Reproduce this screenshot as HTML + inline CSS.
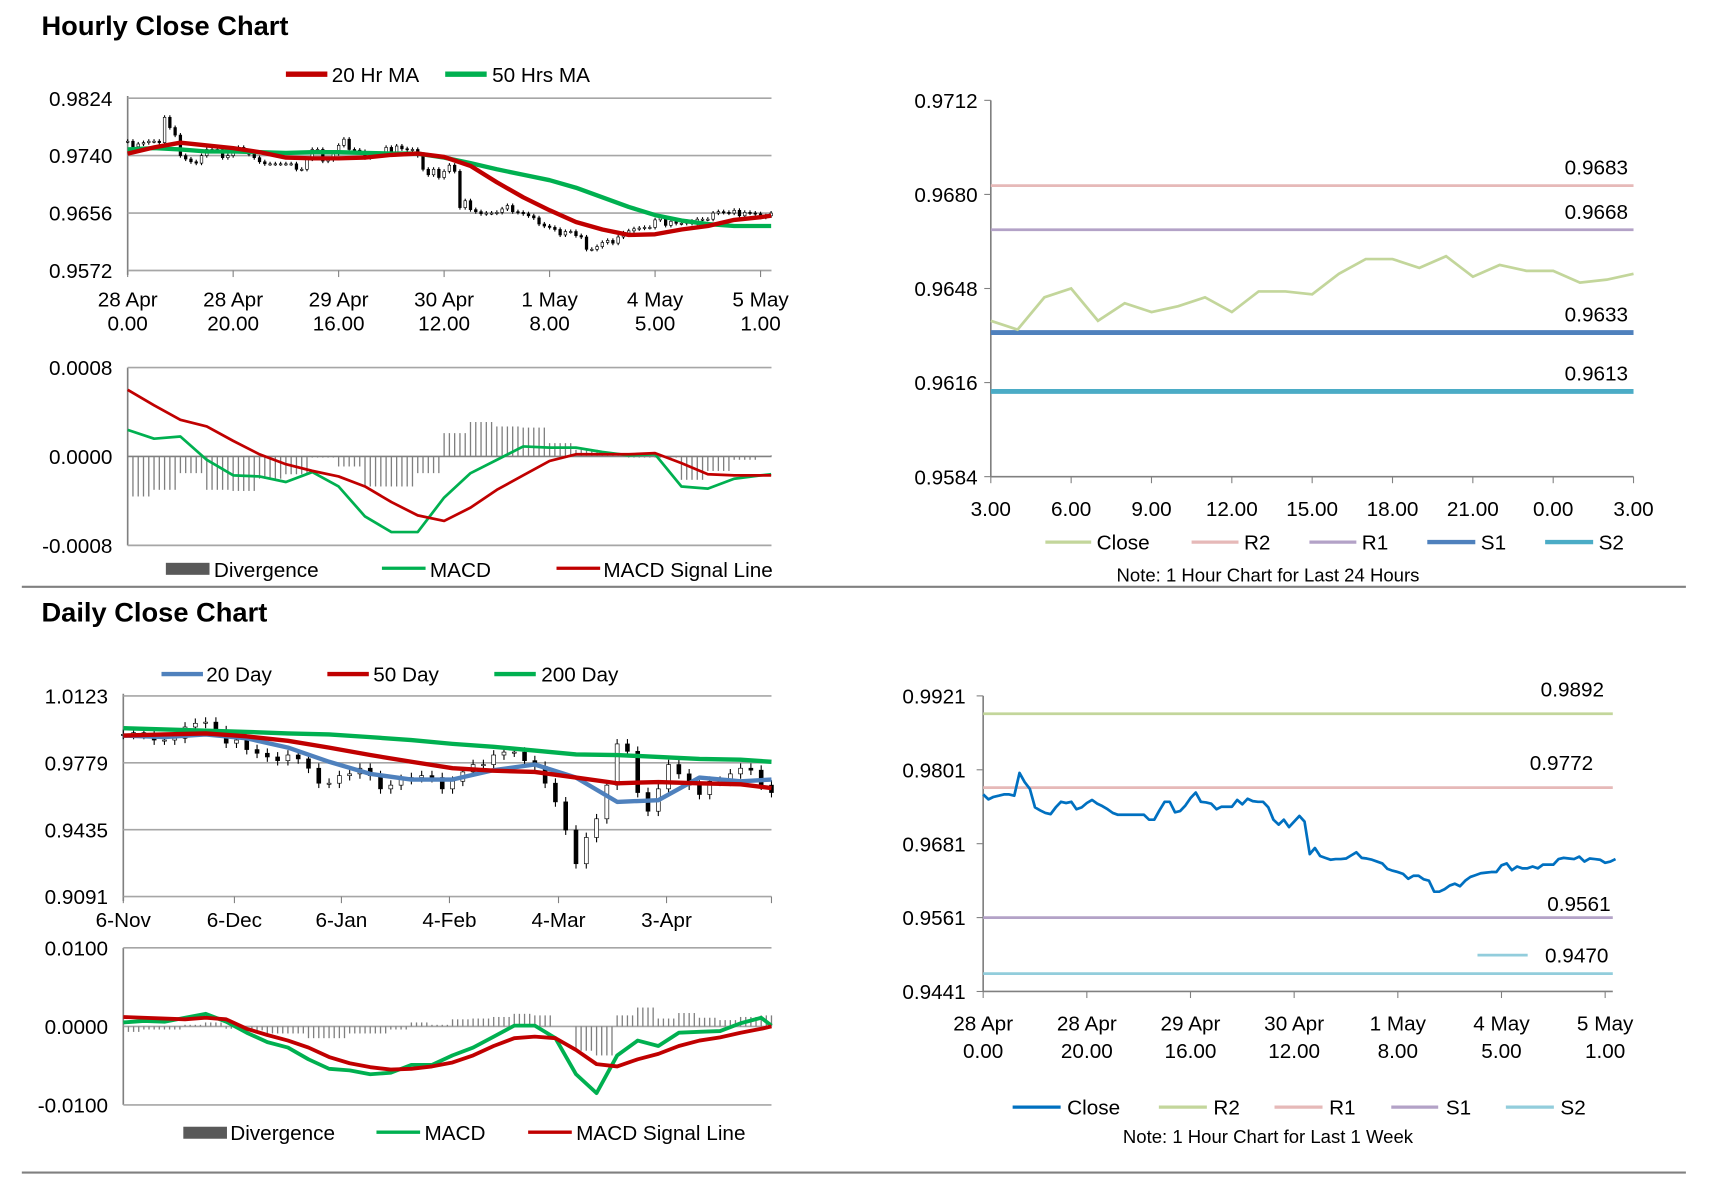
<!DOCTYPE html>
<html><head><meta charset="utf-8">
<style>
html,body{margin:0;padding:0;background:#fff;}
svg{display:block;}
text{font-family:"Liberation Sans Narrow","Liberation Sans",sans-serif;fill:#000;}
.t{font-family:"Liberation Sans",sans-serif;font-weight:bold;font-size:25px;}
.tick{font-size:19px;}
.leg{font-size:19px;}
.note{font-size:17px;}
</style></head>
<body>
<svg id="root" width="1711" height="1178" viewBox="0 0 1568 1080" preserveAspectRatio="none" xmlns="http://www.w3.org/2000/svg">
<text class="t" x="38" y="32">Hourly Close Chart</text>
<text class="t" x="38" y="570">Daily Close Chart</text>
<line x1="20" y1="538" x2="1545" y2="538" stroke="#808080" stroke-width="2"/>
<line x1="20" y1="1075" x2="1545" y2="1075" stroke="#808080" stroke-width="2"/>

<g>
<line x1="262" y1="68" x2="300" y2="68" stroke="#c00000" stroke-width="5"/><text class="leg" x="304" y="75">20 Hr MA</text>
<line x1="408" y1="68" x2="446" y2="68" stroke="#00b050" stroke-width="5"/><text class="leg" x="451" y="75">50 Hrs MA</text>
</g>
<g>
<rect x="152" y="516" width="40" height="11" fill="#595959"/><text class="leg" x="196" y="529">Divergence</text>
<line x1="350" y1="521" x2="390" y2="521" stroke="#00b050" stroke-width="3"/><text class="leg" x="394" y="529">MACD</text>
<line x1="510" y1="521" x2="550" y2="521" stroke="#c00000" stroke-width="3"/><text class="leg" x="553" y="529">MACD Signal Line</text>
</g>
<g>
<line x1="958" y1="497" x2="1000" y2="497" stroke="#c3d69b" stroke-width="3"/><text class="leg" x="1005" y="504">Close</text>
<line x1="1092" y1="497" x2="1135" y2="497" stroke="#e6b9b8" stroke-width="3"/><text class="leg" x="1140" y="504">R2</text>
<line x1="1200" y1="497" x2="1243" y2="497" stroke="#b3a2c7" stroke-width="3"/><text class="leg" x="1248" y="504">R1</text>
<line x1="1308" y1="497" x2="1352" y2="497" stroke="#4f81bd" stroke-width="4"/><text class="leg" x="1357" y="504">S1</text>
<line x1="1416" y1="497" x2="1460" y2="497" stroke="#4bacc6" stroke-width="4"/><text class="leg" x="1465" y="504">S2</text>
<text class="note" x="1162" y="533" text-anchor="middle">Note: 1 Hour Chart for Last 24 Hours</text>
</g>
<g>
<line x1="148" y1="618" x2="186" y2="618" stroke="#4f81bd" stroke-width="4"/><text class="leg" x="189" y="625">20 Day</text>
<line x1="300" y1="618" x2="338" y2="618" stroke="#c00000" stroke-width="4"/><text class="leg" x="342" y="625">50 Day</text>
<line x1="453" y1="618" x2="491" y2="618" stroke="#00b050" stroke-width="4"/><text class="leg" x="496" y="625">200 Day</text>
</g>
<g>
<rect x="168" y="1033" width="40" height="11" fill="#595959"/><text class="leg" x="211" y="1045">Divergence</text>
<line x1="345" y1="1038" x2="385" y2="1038" stroke="#00b050" stroke-width="3"/><text class="leg" x="389" y="1045">MACD</text>
<line x1="484" y1="1038" x2="524" y2="1038" stroke="#c00000" stroke-width="3"/><text class="leg" x="528" y="1045">MACD Signal Line</text>
</g>
<g>
<line x1="928" y1="1015" x2="972" y2="1015" stroke="#0070c0" stroke-width="3"/><text class="leg" x="978" y="1022">Close</text>
<line x1="1062" y1="1015" x2="1106" y2="1015" stroke="#c3d69b" stroke-width="3"/><text class="leg" x="1112" y="1022">R2</text>
<line x1="1168" y1="1015" x2="1212" y2="1015" stroke="#e6b9b8" stroke-width="3"/><text class="leg" x="1218" y="1022">R1</text>
<line x1="1275" y1="1015" x2="1318" y2="1015" stroke="#b3a2c7" stroke-width="3"/><text class="leg" x="1325" y="1022">S1</text>
<line x1="1380" y1="1015" x2="1424" y2="1015" stroke="#92cddc" stroke-width="3"/><text class="leg" x="1430" y="1022">S2</text>
<text class="note" x="1162" y="1048" text-anchor="middle">Note: 1 Hour Chart for Last 1 Week</text>
</g>
</svg>
<script>
// ---------- DATA ----------
const hourlyClose = [0.9761,0.9753,0.9757,0.9759,0.9761,0.9761,0.9759,0.9796,0.9781,0.9770,
0.9740,0.9735,0.9731,0.9729,0.9740,0.9749,0.9747,0.9749,0.9737,0.9740,
0.9747,0.9752,0.9746,0.9742,0.9737,0.9731,0.9728,0.9728,0.9728,0.9728,
0.9728,0.9728,0.9720,0.9720,0.9735,0.9749,0.9749,0.9732,0.9734,0.9743,
0.9755,0.9764,0.9749,0.9748,0.9746,0.9737,0.9741,0.9741,0.9741,0.9752,
0.9745,0.9754,0.9750,0.9749,0.9749,0.9740,0.9720,0.9712,0.9720,0.9708,
0.9717,0.9726,0.9717,0.9664,0.9674,0.9661,0.9658,0.9655,0.9656,0.9656,
0.9657,0.9662,0.9667,0.9658,0.9657,0.9655,0.9652,0.9649,0.9640,0.9637,
0.9635,0.9632,0.9624,0.9629,0.9629,0.9623,0.9621,0.9603,0.9603,0.9607,
0.9613,0.9616,0.9612,0.9621,0.9627,0.9630,0.9633,0.9634,0.9635,0.9635,
0.9646,0.9649,0.9638,0.9644,0.9641,0.9641,0.9644,0.9641,0.9647,0.9647,
0.9647,0.9656,0.9658,0.9657,0.9656,0.9660,0.9652,0.9657,0.9656,0.9655,
0.9650,0.9652,0.9656];
const hourlyTickIdx = [0,20,40,60,80,100,120];
const hourlyTickTop = ["28 Apr","28 Apr","29 Apr","30 Apr","1 May","4 May","5 May"];
const hourlyTickBot = ["0.00","20.00","16.00","12.00","8.00","5.00","1.00"];
const hourlyYTicks = [0.9572,0.9656,0.9740,0.9824];
const maIdx = [0,5,10,15,20,25,30,35,40,45,50,55,60,65,70,75,80,85,90,95,100,105,110,115,120,122];
const ma20 = [0.9743,0.9752,0.9759,0.9755,0.9751,0.9745,0.9737,0.9736,0.9736,0.9737,0.9741,0.9743,0.9738,0.9725,0.9701,0.9679,0.9660,0.9643,0.9632,0.9624,0.9625,0.9632,0.9637,0.9646,0.9650,0.9652];
const ma50 = [0.9749,0.9751,0.9749,0.9746,0.9746,0.9745,0.9744,0.9745,0.9745,0.9744,0.9743,0.9743,0.9737,0.9729,0.9720,0.9712,0.9704,0.9693,0.9679,0.9665,0.9653,0.9645,0.9640,0.9637,0.9637,0.9637];
const hMacd = [0.00024,0.00016,0.00018,-0.00003,-0.00017,-0.00018,-0.00023,-0.00014,-0.00027,-0.00054,-0.00068,-0.00068,-0.00037,-0.00015,-0.00003,0.00009,0.00008,0.00008,0.00004,0.00001,0.00002,-0.00027,-0.00029,-0.00020,-0.00017,-0.00016];
const hSignal = [0.00060,0.00046,0.00033,0.00027,0.00014,0.00002,-0.00007,-0.00013,-0.00018,-0.00027,-0.00041,-0.00053,-0.00058,-0.00046,-0.00030,-0.00017,-0.00004,0.00002,0.00002,0.00002,0.00003,-0.00006,-0.00016,-0.00017,-0.00017,-0.00017];

const dayClose = [0.9637,0.9634,0.9645,0.9648,0.9637,0.9643,0.9640,0.9642,0.9645,0.9640,0.9647,0.9647,0.9646,0.9653,0.9658,0.9658,0.9655,0.9659,0.9652,0.9656,0.9654,0.9654,0.9650,0.9651,0.9653];
const dayTickLabels = ["3.00","6.00","9.00","12.00","15.00","18.00","21.00","0.00","3.00"];
const dayYTicks = [0.9584,0.9616,0.9648,0.9680,0.9712];
const dayLevelNames = ["R2","R1","S1","S2"];
const dayLevels = [0.9683,0.9668,0.9633,0.9613];

const weekLevelNames = ["R2","R1","S1","S2"];
const weekLevels = [0.9892,0.9772,0.9561,0.9470];
const weekYTicks = [0.9441,0.9561,0.9681,0.9801,0.9921];

const dailyClose = [0.9925,0.9934,0.9925,0.9896,0.9896,0.9905,0.9963,0.9982,0.9988,0.9944,
0.9880,0.9896,0.9847,0.9828,0.9809,0.9790,0.9819,0.9799,0.9751,0.9674,
0.9674,0.9713,0.9722,0.9751,0.9713,0.9645,0.9664,0.9693,0.9703,0.9713,
0.9703,0.9645,0.9684,0.9732,0.9770,0.9770,0.9819,0.9834,0.9834,0.9790,
0.9761,0.9674,0.9578,0.9433,0.9260,0.9395,0.9491,0.9664,0.9876,0.9838,
0.9626,0.9530,0.9645,0.9770,0.9722,0.9664,0.9616,0.9684,0.9684,0.9722,
0.9751,0.9741,0.9664,0.9626];
const dailyTickPos = [0,10.8,21.2,31.7,42.3,52.8];
const dailyTickLabels = ["6-Nov","6-Dec","6-Jan","4-Feb","4-Mar","3-Apr"];
const dailyYTicks = [0.9091,0.9435,0.9779,1.0123];
const dMaIdx = [0,4,8,12,16,20,24,28,32,36,40,44,48,52,56,60,63];
const d20 = [0.9919,0.9911,0.9925,0.9905,0.9857,0.9784,0.9722,0.9693,0.9693,0.9741,0.9770,0.9703,0.9578,0.9587,0.9703,0.9684,0.9693];
const d50 = [0.9919,0.9925,0.9930,0.9915,0.9892,0.9857,0.9819,0.9784,0.9751,0.9738,0.9732,0.9703,0.9674,0.9680,0.9674,0.9668,0.9649];
const d200 = [0.9957,0.9950,0.9944,0.9938,0.9930,0.9925,0.9911,0.9896,0.9876,0.9861,0.9842,0.9822,0.9819,0.9809,0.9799,0.9795,0.9784];
const dMacdIdx = [0,2,4,6,8,10,12,14,16,18,20,22,24,26,28,30,32,34,36,38,40,42,44,46,48,50,52,54,56,58,60,62,63];
const dMacd = [0.0005,0.0007,0.0006,0.0011,0.0016,0.0006,-0.0008,-0.0020,-0.0027,-0.0042,-0.0054,-0.0056,-0.0061,-0.0059,-0.0049,-0.0049,-0.0037,-0.0027,-0.0013,0.0001,0.0001,-0.0015,-0.0061,-0.0085,-0.0037,-0.0018,-0.0025,-0.0008,-0.0007,-0.0006,0.0004,0.0011,0.0001];
const dSignal = [0.0012,0.0011,0.0010,0.0009,0.0011,0.0009,-0.0003,-0.0011,-0.0018,-0.0027,-0.0039,-0.0047,-0.0052,-0.0055,-0.0054,-0.0051,-0.0046,-0.0037,-0.0025,-0.0015,-0.0013,-0.0015,-0.0030,-0.0048,-0.0051,-0.0042,-0.0035,-0.0025,-0.0018,-0.0014,-0.0008,-0.0003,0.0000];
const dMacdTicks = [-0.01,0,0.01];

// ---------- DRAW ----------
const NS = "http://www.w3.org/2000/svg";
const root = document.getElementById('root');
function mk(tag, attrs, parent){const e=document.createElementNS(NS,tag);for(const k in attrs)e.setAttribute(k,attrs[k]);(parent||root).appendChild(e);return e;}
function lin(d0,d1,r0,r1){return v=>r0+(v-d0)/(d1-d0)*(r1-r0);}
function txt(x,y,s,anchor){const t=mk('text',{x:x,y:y,'text-anchor':anchor||'start'});t.setAttribute('class','tick');t.textContent=s;return t;}
function path(pts){return pts.map((p,i)=>(i?'L':'M')+p[0].toFixed(1)+' '+p[1].toFixed(1)).join(' ');}

function grid(x0,x1,yScale,ticks,dec){
  ticks.forEach(v=>{
    const y=yScale(v);
    const g=mk('line',{x1:x0,x2:x1,y1:y,y2:y,stroke:'#a6a6a6','stroke-width':1.5});
    
    
    const t=txt(x0-14,y+7,v.toFixed(dec),'end');
    
    
  });
}
function yAxis(x,y0,y1){const a=mk('line',{x1:x,x2:x,y1:y0,y2:y1,stroke:'#808080','stroke-width':1.5});
  
  }

// ===== Hourly candles =====
const hx = lin(0,120,117,697), hy = lin(0.9572,0.9824,248,90);
yAxis(117,88,252);
grid(117,707,hy,hourlyYTicks,4);
hourlyTickIdx.forEach((ix,i)=>{
  const x=hx(ix);
  const tk=mk('line',{x1:x,x2:x,y1:248,y2:254,stroke:'#808080'});
  
  
  const a=txt(x,281,hourlyTickTop[i],'middle');
  
  
  const b=txt(x,303,hourlyTickBot[i],'middle');
  
  
});
const hc = mk('g',{});


hourlyClose.forEach((c,i)=>{
  const o = i?hourlyClose[i-1]:c;
  const hi=Math.max(o,c)+0.0003, lo=Math.min(o,c)-0.0003;
  const x=hx(i);
  const w=mk('line',{x1:x,x2:x,y1:hy(hi),y2:hy(lo),stroke:'#000','stroke-width':1},hc);
  
  
  const top=hy(Math.max(o,c)), h=Math.max(1,hy(Math.min(o,c))-top);
  const r=mk('rect',{x:x-1.2,y:top,width:2.4,height:h,fill:c<o?'#000':'#fff',stroke:'#000','stroke-width':0.6},hc);
  
  
});
const m50=mk('path',{d:path(maIdx.map((ix,i)=>[hx(ix),hy(ma50[i])])),fill:'none',stroke:'#00b050','stroke-width':4,'stroke-linejoin':'round'});


const m20=mk('path',{d:path(maIdx.map((ix,i)=>[hx(ix),hy(ma20[i])])),fill:'none',stroke:'#c00000','stroke-width':4,'stroke-linejoin':'round'});



// ===== Hourly MACD =====
const hmy = lin(-0.0008,0.0008,500,337);
yAxis(117,337,500);
grid(117,707,hmy,[0.0008,-0.0008],4);
(function(){const z=mk('line',{x1:117,x2:707,y1:hmy(0),y2:hmy(0),stroke:'#808080','stroke-width':1.5});


const t=txt(103,hmy(0)+7,'0.0000','end');

})();
maIdx.forEach((ix,i)=>{
  const d=hMacd[i]-hSignal[i];
  for(let k=0;k<5 && ix+k<=122;k++){
    const x=hx(ix+k);
    const b=mk('line',{x1:x,x2:x,y1:hmy(0),y2:hmy(d),stroke:'#7f7f7f','stroke-width':1.2});
    
    
  }
});
const hm=mk('path',{d:path(maIdx.map((ix,i)=>[hx(ix),hmy(hMacd[i])])),fill:'none',stroke:'#00b050','stroke-width':2.5,'stroke-linejoin':'round'});


const hs=mk('path',{d:path(maIdx.map((ix,i)=>[hx(ix),hmy(hSignal[i])])),fill:'none',stroke:'#c00000','stroke-width':2.5,'stroke-linejoin':'round'});



// ===== Day (24h) pivot chart =====
const tx = lin(0,24,908,1497), ty = lin(0.9584,0.9712,437,92);
yAxis(908,92,437);
(function(){const xa=mk('line',{x1:908,x2:1497,y1:437,y2:437,stroke:'#808080','stroke-width':1.5});

})();
dayYTicks.forEach(v=>{
  const y=ty(v);
  const tk=mk('line',{x1:902,x2:908,y1:y,y2:y,stroke:'#808080'});
  
  
  const t=txt(896,y+7,v.toFixed(4),'end');
  
  
});
dayTickLabels.forEach((s,i)=>{
  const x=tx(i*3);
  const tk=mk('line',{x1:x,x2:x,y1:437,y2:443,stroke:'#808080'});
  
  
  const t=txt(x,473,s,'middle');
  
  
});
const dayColors=['#e6b9b8','#b3a2c7','#4f81bd','#4bacc6'], dayW=[2.5,2.5,4.5,4.5];
dayLevels.forEach((v,i)=>{
  const y=ty(v);
  const l=mk('line',{x1:908,x2:1497,y1:y,y2:y,stroke:dayColors[i],'stroke-width':dayW[i]});
  
  
  const t=txt(1492,y-10,v.toFixed(4),'end');
  
  
});
const dc=mk('path',{d:path(dayClose.map((v,i)=>[tx(i),ty(v)])),fill:'none',stroke:'#c3d69b','stroke-width':2.5});



// ===== Week pivot chart =====
const bx = lin(0,120,901,1471), by = lin(0.9441,0.9921,909,638);
yAxis(901,638,909);
(function(){const xa=mk('line',{x1:901,x2:1478,y1:909,y2:909,stroke:'#808080','stroke-width':1.5});

})();
weekYTicks.forEach(v=>{
  const y=by(v);
  const tk=mk('line',{x1:895,x2:901,y1:y,y2:y,stroke:'#808080'});
  
  
  const t=txt(885,y+7,v.toFixed(4),'end');
  
  
});
hourlyTickIdx.forEach((ix,i)=>{
  const x=bx(ix);
  const tk=mk('line',{x1:x,x2:x,y1:909,y2:915,stroke:'#808080'});
  
  
  const a=txt(x,945,hourlyTickTop[i],'middle');
  
  
  const b=txt(x,970,hourlyTickBot[i],'middle');
  
  
});
const weekColors=['#c3d69b','#e6b9b8','#b3a2c7','#92cddc'];
const weekLabelX=[1470,1460,1476,1474];
weekLevels.forEach((v,i)=>{
  const y=by(v);
  const l=mk('line',{x1:901,x2:1478,y1:y,y2:y,stroke:weekColors[i],'stroke-width':2.5});
  
  
  const ly = i===3 ? y-10 : (i===2 ? y-6 : y-16);
  const t=txt(weekLabelX[i],ly,v.toFixed(4),'end');
  
  
  if(i===3){
    const s=mk('line',{x1:1354,x2:1400,y1:ly-7,y2:ly-7,stroke:weekColors[i],'stroke-width':2.5});
    
    
  }
});
const wc=mk('path',{d:path(hourlyClose.map((v,i)=>[bx(i),by(v)])),fill:'none',stroke:'#0070c0','stroke-width':2.5,'stroke-linejoin':'round'});



// ===== Daily candles =====
const dx = lin(0,63,113,707), dy = lin(0.9091,1.0123,822,638);
yAxis(113,636,826);
grid(113,707,dy,dailyYTicks,4);
dailyTickPos.forEach((p,i)=>{
  const x=dx(p);
  const tk=mk('line',{x1:x,x2:x,y1:822,y2:828,stroke:'#808080'});
  
  
  const t=txt(x,850,dailyTickLabels[i],'middle');
  
  
});
(function(){const tk=mk('line',{x1:707,x2:707,y1:822,y2:828,stroke:'#808080'});

})();
const dcg=mk('g',{});


dailyClose.forEach((c,i)=>{
  const o=i?dailyClose[i-1]:c;
  const hi=Math.max(o,c)+0.0025, lo=Math.min(o,c)-0.0025;
  const x=dx(i);
  const w=mk('line',{x1:x,x2:x,y1:dy(hi),y2:dy(lo),stroke:'#000','stroke-width':1},dcg);
  
  
  const top=dy(Math.max(o,c)), h=Math.max(1,dy(Math.min(o,c))-top);
  const r=mk('rect',{x:x-1.8,y:top,width:3.6,height:h,fill:c<o?'#000':'#fff',stroke:'#000','stroke-width':0.6},dcg);
  
  
});
const l200=mk('path',{d:path(dMaIdx.map((ix,i)=>[dx(ix),dy(d200[i])])),fill:'none',stroke:'#00b050','stroke-width':4});


const l20=mk('path',{d:path(dMaIdx.map((ix,i)=>[dx(ix),dy(d20[i])])),fill:'none',stroke:'#4f81bd','stroke-width':4,'stroke-linejoin':'round'});


const l50=mk('path',{d:path(dMaIdx.map((ix,i)=>[dx(ix),dy(d50[i])])),fill:'none',stroke:'#c00000','stroke-width':4,'stroke-linejoin':'round'});



// ===== Daily MACD =====
const dmy = lin(-0.01,0.01,1013,869);
yAxis(113,869,1013);
grid(113,707,dmy,dMacdTicks,4);
dMacdIdx.forEach((ix,i)=>{
  const d=dMacd[i]-dSignal[i];
  for(let k=0;k<2 && ix+k<=63;k++){
    for(let s=0;s<2;s++){
      const x=dx(ix+k)+s*4.7;
      if(x>707)continue;
      const b=mk('line',{x1:x,x2:x,y1:dmy(0),y2:dmy(d),stroke:'#7f7f7f','stroke-width':1.2});
      
      
    }
  }
});
const dm=mk('path',{d:path(dMacdIdx.map((ix,i)=>[dx(ix),dmy(dMacd[i])])),fill:'none',stroke:'#00b050','stroke-width':3.5,'stroke-linejoin':'round'});


const ds=mk('path',{d:path(dMacdIdx.map((ix,i)=>[dx(ix),dmy(dSignal[i])])),fill:'none',stroke:'#c00000','stroke-width':3.5,'stroke-linejoin':'round'});


</script>
</body></html>
